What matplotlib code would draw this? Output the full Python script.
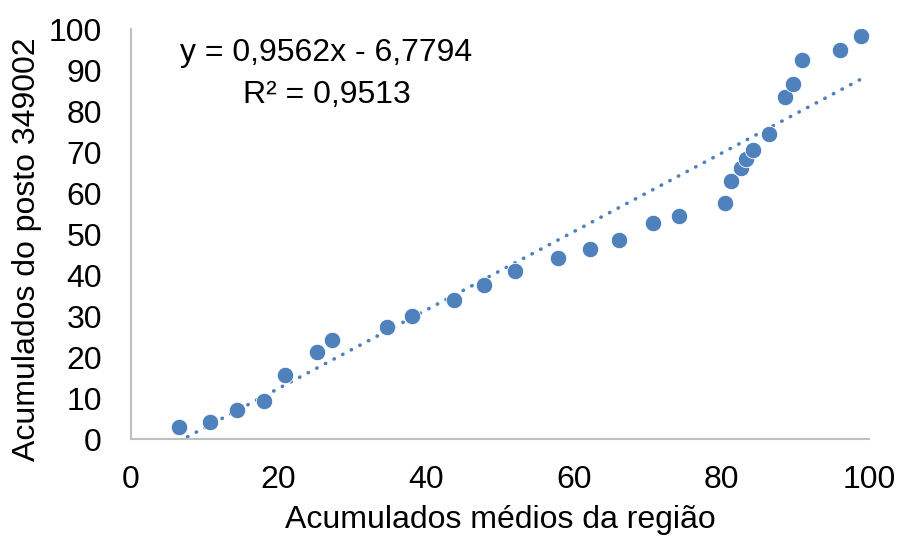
import numpy as np
import matplotlib.pyplot as plt

plt.rcParams['font.family'] = ['Liberation Sans', 'DejaVu Sans']

# Points
regiao = [6.5, 10.7, 14.4, 18.0, 20.9, 25.2, 27.2, 34.7, 38.1, 43.8, 47.8, 52.0,
          57.9, 62.2, 66.1, 70.7, 74.3, 80.5, 81.3, 82.7, 83.3, 84.3, 86.4,
          88.6, 89.7, 90.9, 96.1, 98.9]
posto = [2.9, 4.1, 7.1, 9.3, 15.6, 21.2, 24.1, 27.3, 30.0, 33.9, 37.6, 41.0,
         44.1, 46.3, 48.5, 52.7, 54.4, 57.6, 62.9, 66.1, 68.3, 70.5, 74.4,
         83.4, 86.6, 92.4, 94.9, 98.3]

# Trendline as shown on the chart
slope = 0.9562
intercept = -6.7794
r2 = 0.9513

cor = '#4F81BD'

fig = plt.figure(figsize=(9.06, 5.39), dpi=100)
ax = fig.add_axes([0.1446, 0.1855, 0.8146, 0.7605])

xs = np.array([min(regiao), max(regiao)])
ax.plot(xs, slope * xs + intercept, color=cor, linewidth=2.6,
        linestyle=(0, (0.1, 2.6)), dash_capstyle='round', zorder=2)
ax.scatter(regiao, posto, s=140, color=cor, edgecolors='white', linewidths=0.6, zorder=3)

ax.set_xlim(0, 100)
ax.set_ylim(0, 100)
ax.set_xticks(range(0, 101, 20))
ax.set_yticks(range(0, 101, 10))
ax.tick_params(length=0, labelsize=23, colors='black')
ax.tick_params(axis='x', pad=19)
ax.tick_params(axis='y', pad=21)
for s in ['top', 'right']:
    ax.spines[s].set_visible(False)
for s in ['left', 'bottom']:
    ax.spines[s].set_color('#BFBFBF')
    ax.spines[s].set_linewidth(1.5)

ax.set_xlabel('Acumulados médios da região', fontsize=23, labelpad=7)
ax.set_ylabel('Acumulados do posto 349002', fontsize=23)
ax.yaxis.set_label_coords(-0.12, 0.463)

eq = f'y = {slope:.4f}x - {abs(intercept):.4f}'.replace('.', ',')
rr = f'R² = {r2:.4f}'.replace('.', ',')
ax.text(26.4, 94.1, eq, fontsize=23, ha='center', va='center')
ax.text(26.5, 83.9, rr, fontsize=23, ha='center', va='center')

plt.savefig('out.png', dpi=100)
